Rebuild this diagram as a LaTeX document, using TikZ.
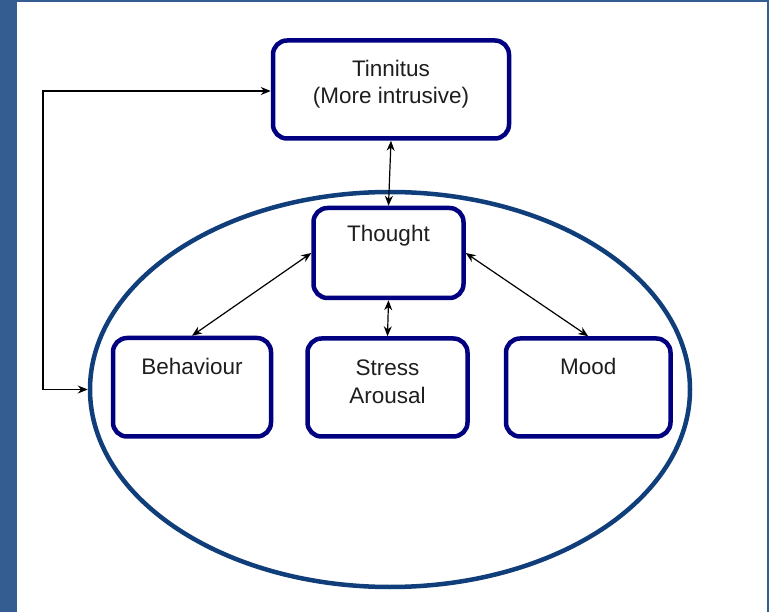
\documentclass[tikz,border=0pt]{standalone}
\usepackage{fontspec}
\setmainfont{Liberation Sans}
\usetikzlibrary{arrows.meta, shapes.geometric, calc}

\definecolor{barblue}{RGB}{52,94,145}
\definecolor{boxblue}{RGB}{0,0,128}
\definecolor{ringblue}{RGB}{16,62,122}
\definecolor{txtgray}{RGB}{30,30,30}

\tikzset{
  box/.style = {draw=boxblue, line width=4.5pt, rounded corners=14pt, inner sep=0pt,
                text=txtgray, font=\fontsize{22.5}{27.3}\selectfont},
  link/.style = {{Stealth[length=10pt,width=8pt]}-{Stealth[length=10pt,width=8pt]}, line width=1.2pt},
}

\begin{document}
\begin{tikzpicture}[x=1pt, y=-1pt]
\useasboundingbox (0,0) rectangle (769,612);
% frame of the slide
\fill[barblue] (0,0) rectangle (17,612);
\fill[barblue] (0,0) rectangle (769,2);
\fill[barblue] (767,0) rectangle (769,612);

\node[draw=ringblue, line width=4.5pt, ellipse, minimum width=600pt, minimum height=395pt, inner sep=0pt] (mind) at (390,389.5) {};

\node[box, minimum width=236pt, text height=36.2pt, text depth=61.8pt] (tinnitus) at (391,89.5) {\begin{tabular}[t]{@{}c@{}}Tinnitus\\(More intrusive)\end{tabular}};
\node[box, minimum width=150pt, text height=34pt, text depth=56pt] (thought) at (388.5,253) {Thought};
\node[box, minimum width=158pt, text height=37pt, text depth=61.5pt] (behaviour) at (192,387.25) {Behaviour};
\node[box, minimum width=160pt, text height=37.5pt, text depth=60.5pt] (stress) at (387.5,387.5) {\begin{tabular}[t]{@{}c@{}}Stress\\Arousal\end{tabular}};
\node[box, minimum width=164.5pt, text height=36.5pt, text depth=61.5pt] (mood) at (588.25,387.5) {Mood};

\coordinate (back) at (43,91);

\draw[link] (tinnitus.south) -- (thought.north);
\draw[link] (thought.west) -- (behaviour.north);
\draw[link] (thought.east) -- (mood.north);
\draw[link] (thought.south) -- (stress.north);
\draw[link] (tinnitus.west |- back) -- (back) |- (mind.west);
\end{tikzpicture}
\end{document}
